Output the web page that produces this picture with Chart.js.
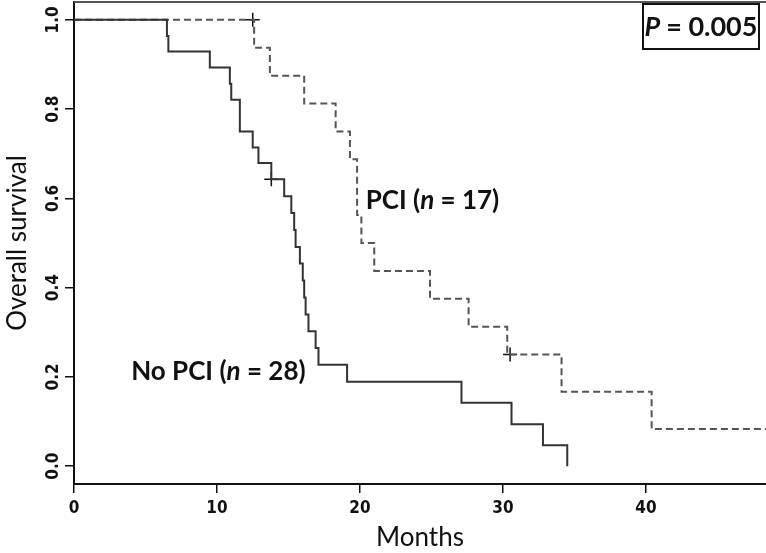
<!DOCTYPE html>
<html>
<head>
<meta charset="utf-8">
<script src="https://cdn.jsdelivr.net/npm/chart.js@4.4.1/dist/chart.umd.min.js"></script>
<style>
  body { margin: 0; background: #fff; }
  canvas { display: block; }
</style>
</head>
<body>
<canvas id="kmChart" width="766" height="553"></canvas>
<script>
// Kaplan-Meier data (months, survival after each event)
const noPciTimes = [0, 6.5, 6.6, 9.5, 10.9, 11.0, 11.6, 12.5, 12.9, 13.8, 14.7, 15.2, 15.4, 15.5, 15.8, 16.0, 16.1, 16.2, 16.4, 16.9, 17.1, 19.1, 27.1, 30.6, 32.8, 34.5];
const noPciSurv = [1, 0.964, 0.929, 0.893, 0.857, 0.821, 0.750, 0.714, 0.679, 0.643, 0.605, 0.567, 0.529, 0.491, 0.454, 0.416, 0.378, 0.340, 0.302, 0.265, 0.227, 0.189, 0.142, 0.094, 0.047, 0];
const noPciCensorTimes = [13.8];
const noPciCensorSurv = [0.643];

const pciTimes = [0, 12.6, 13.7, 16.1, 18.3, 19.3, 19.8, 20.1, 21.0, 24.9, 27.6, 30.3, 34.1, 40.4, 48.4];
const pciSurv = [1, 0.9375, 0.875, 0.8125, 0.75, 0.6875, 0.5625, 0.5, 0.4375, 0.375, 0.3125, 0.25, 0.1667, 0.0833, 0.0833];
const pciCensorTimes = [12.5, 30.5];
const pciCensorSurv = [1.0, 0.25];

const xTicks = [0, 10, 20, 30, 40];
const yTicks = [0, 0.2, 0.4, 0.6, 0.8, 1.0];
const pValueText = '= 0.005';

function toPoints(xs, ys) {
    return xs.map((x, i) => ({ x: x, y: ys[i] }));
}

const tickFont = { family: '"Liberation Sans Narrow", "DejaVu Sans Condensed", Arial, sans-serif', size: 17, weight: 'bold' };
const labelFamily = 'Lato, "Open Sans", sans-serif';

// group labels, p-value box and the top frame line
const annotations = {
    id: 'annotations',
    afterDraw(chart) {
        const ctx = chart.ctx;
        const xs = chart.scales.x, ys = chart.scales.y;
        const area = chart.chartArea;
        ctx.save();

        ctx.strokeStyle = '#555';
        ctx.lineWidth = 2;
        ctx.beginPath();
        ctx.moveTo(area.left, area.top);
        ctx.lineTo(area.right, area.top);
        ctx.stroke();

        function groupLabel(name, n, x, y) {
            ctx.fillStyle = '#111';
            ctx.textBaseline = 'middle';
            ctx.textAlign = 'left';
            const parts = [
                [name + ' (', 'bold 26px ' + labelFamily],
                ['n', 'italic bold 26px ' + labelFamily],
                [' = ' + n + ')', 'bold 26px ' + labelFamily]
            ];
            let cx = x;
            parts.forEach(([t, f]) => {
                ctx.font = f;
                ctx.fillText(t, cx, y);
                cx += ctx.measureText(t).width;
            });
        }
        groupLabel('PCI', 17, xs.getPixelForValue(20.4), ys.getPixelForValue(0.596));
        groupLabel('No PCI', 28, xs.getPixelForValue(4.0), ys.getPixelForValue(0.211));

        // P value box
        ctx.strokeStyle = '#111';
        ctx.lineWidth = 2;
        ctx.strokeRect(area.right - 123, area.top + 2, 116, 45);
        ctx.fillStyle = '#111';
        ctx.textBaseline = 'middle';
        ctx.textAlign = 'left';
        ctx.font = 'italic bold 27px ' + labelFamily;
        const pw = ctx.measureText('P ').width;
        ctx.font = 'bold 27px ' + labelFamily;
        const rw = ctx.measureText(pValueText).width;
        let px = area.right - 65 - (pw + rw) / 2;
        ctx.font = 'italic bold 27px ' + labelFamily;
        ctx.fillText('P ', px, area.top + 25);
        ctx.font = 'bold 27px ' + labelFamily;
        ctx.fillText(pValueText, px + pw, area.top + 25);
        ctx.restore();
    }
};

new Chart(document.getElementById('kmChart'), {
    type: 'line',
    data: {
        datasets: [
            {
                label: 'No PCI',
                data: toPoints(noPciTimes, noPciSurv),
                stepped: 'before',
                borderColor: '#333',
                borderWidth: 2,
                pointRadius: 0,
                fill: false
            },
            {
                label: 'PCI',
                data: toPoints(pciTimes, pciSurv),
                stepped: 'before',
                borderColor: '#555',
                borderWidth: 2,
                borderDash: [7, 4],
                pointRadius: 0,
                fill: false
            },
            {
                type: 'scatter',
                label: 'No PCI censored',
                data: toPoints(noPciCensorTimes, noPciCensorSurv),
                pointStyle: 'cross',
                pointRadius: 7,
                borderColor: '#111',
                borderWidth: 1.5
            },
            {
                type: 'scatter',
                label: 'PCI censored',
                data: toPoints(pciCensorTimes, pciCensorSurv),
                pointStyle: 'cross',
                pointRadius: 7,
                borderColor: '#111',
                borderWidth: 1.5
            }
        ]
    },
    options: {
        responsive: false,
        animation: false,
        layout: { autoPadding: false, padding: { top: 2, right: 0, left: 0, bottom: 0 } },
        plugins: {
            legend: { display: false },
            tooltip: { enabled: false }
        },
        scales: {
            x: {
                type: 'linear',
                min: 0,
                max: 48.4,
                afterFit(scale) {
                    scale.height = 69;
                    scale.paddingLeft = 0;
                    scale.paddingRight = 0;
                },
                afterBuildTicks(scale) { scale.ticks = xTicks.map(v => ({ value: v })); },
                border: { display: true, color: '#111', width: 2 },
                grid: { display: true, drawOnChartArea: false, drawTicks: true, tickLength: 9, color: '#111', lineWidth: 1.5 },
                ticks: { font: tickFont, color: '#111', padding: 5, maxRotation: 0 },
                title: {
                    display: true,
                    text: 'Months',
                    font: { family: labelFamily, size: 26 },
                    color: '#111',
                    padding: { top: 0, bottom: 0 }
                }
            },
            y: {
                type: 'linear',
                min: -0.04,
                max: 1.04,
                afterFit(scale) {
                    scale.width = 74;
                    scale.paddingTop = 0;
                    scale.paddingBottom = 0;
                },
                afterBuildTicks(scale) { scale.ticks = yTicks.map(v => ({ value: v })); },
                border: { display: true, color: '#111', width: 2 },
                grid: { display: true, drawOnChartArea: false, drawTicks: true, tickLength: 9, color: '#111', lineWidth: 1.5 },
                ticks: {
                    font: tickFont,
                    color: '#111',
                    padding: -2,
                    minRotation: 90,
                    maxRotation: 90,
                    crossAlign: 'center',
                    callback: v => Number(v).toFixed(1)
                },
                title: {
                    display: true,
                    text: 'Overall survival',
                    font: { family: labelFamily, size: 26 },
                    color: '#111',
                    padding: { top: 2, bottom: 0 }
                }
            }
        }
    },
    plugins: [annotations]
});
</script>
</body>
</html>
